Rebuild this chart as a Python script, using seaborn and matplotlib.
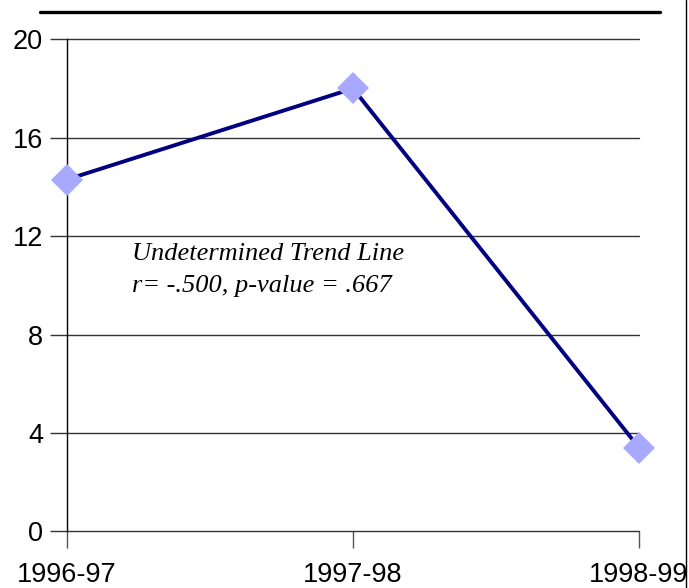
import pandas as pd
import numpy as np
import matplotlib
matplotlib.use('Agg')
import matplotlib.pyplot as plt
import seaborn as sns

# Data
years = ['1996-97', '1997-98', '1998-99']
values = [14.3, 18.0, 3.4]
y_ticks = [0, 4, 8, 12, 16, 20]
note_lines = ['Undetermined Trend Line', 'r= -.500, p-value = .667']

df = pd.DataFrame({'year': years, 'value': values})

sns.set_theme(style='white')
plt.rcParams['font.family'] = ['Liberation Sans', 'DejaVu Sans']

fig = plt.figure(figsize=(6.89, 5.88), dpi=100)
ax = fig.add_axes([0.0972, 0.0964, 0.9274 - 0.0972, 0.9332 - 0.0964])

sns.lineplot(data=df, x='year', y='value', ax=ax, color='#000080', linewidth=2.8,
             marker='D', markersize=16, markerfacecolor='#A8A8FF',
             markeredgecolor='#A8A8FF', markeredgewidth=0, zorder=3, clip_on=False)

ax.set_xlim(0, 2)
ax.set_ylim(0, 20)
ax.set_yticks(y_ticks)
ax.set_xticks(range(len(years)))
ax.set_xticklabels(years)
ax.set_xlabel('')
ax.set_ylabel('')

# horizontal gridlines only
for v in y_ticks:
    ax.axhline(v, color='#333333', linewidth=1, zorder=1, clip_on=False)

for s in ['top', 'right', 'bottom']:
    ax.spines[s].set_visible(False)
ax.spines['left'].set_color('black')
ax.spines['left'].set_linewidth(1)

ax.tick_params(axis='y', which='major', direction='out', length=12.2, width=1,
               color='#333333', labelsize=19.5, pad=5, left=True)
ax.tick_params(axis='x', which='major', direction='out', length=12.2, width=1,
               color='#555555', labelsize=19.5, pad=10, bottom=True)
for lab in ax.get_xticklabels() + ax.get_yticklabels():
    lab.set_color('black')

for y, line in zip([11.03, 9.73], note_lines):
    ax.text(0.228, y, line, fontsize=19, fontstyle='italic',
            family=['Liberation Serif', 'DejaVu Serif'],
            ha='left', va='baseline', color='black')

# decorative rule at top and border on right
fig.add_artist(plt.Line2D([40 / 689, 660 / 689], [1 - 11.5 / 588, 1 - 11.5 / 588],
                          color='black', linewidth=2.4, transform=fig.transFigure))
fig.add_artist(plt.Line2D([686 / 689, 686 / 689], [0, 1],
                          color='black', linewidth=1, transform=fig.transFigure))

fig.savefig('out.png', dpi=100)
